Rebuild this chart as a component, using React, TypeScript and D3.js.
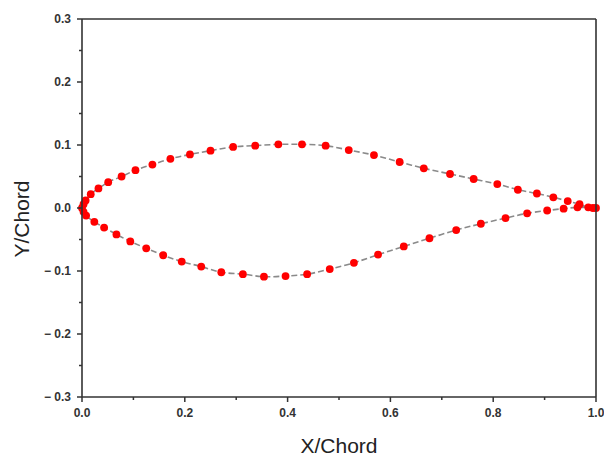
import React from "react";
import * as d3 from "d3";

const upperX = [1.0, 0.985, 0.968, 0.945, 0.917, 0.885, 0.848, 0.808, 0.762, 0.716, 0.665, 0.618, 0.568, 0.519, 0.474, 0.428, 0.382, 0.337, 0.294, 0.25, 0.21, 0.172, 0.137, 0.104, 0.077, 0.051, 0.032, 0.017, 0.007, 0.003, 0.0];
const upperY = [0.0, 0.001, 0.006, 0.011, 0.017, 0.023, 0.029, 0.038, 0.046, 0.054, 0.063, 0.073, 0.084, 0.092, 0.099, 0.101, 0.101, 0.099, 0.097, 0.091, 0.085, 0.078, 0.069, 0.06, 0.05, 0.041, 0.031, 0.022, 0.012, 0.006, 0.0];
const lowerX = [0.003, 0.008, 0.024, 0.043, 0.067, 0.094, 0.125, 0.158, 0.194, 0.232, 0.271, 0.313, 0.354, 0.396, 0.438, 0.482, 0.529, 0.576, 0.626, 0.676, 0.728, 0.776, 0.824, 0.866, 0.905, 0.937, 0.964, 0.994];
const lowerY = [-0.006, -0.012, -0.022, -0.031, -0.042, -0.053, -0.064, -0.075, -0.085, -0.093, -0.102, -0.105, -0.109, -0.108, -0.105, -0.097, -0.087, -0.074, -0.061, -0.048, -0.035, -0.025, -0.016, -0.0085, -0.004, -0.001, 0.001, 0.0];

const xTicks = [0, 0.2, 0.4, 0.6, 0.8, 1.0];
const xTickLabels = ["0.0", "0.2", "0.4", "0.6", "0.8", "1.0"];
const xMinor = [0.1, 0.3, 0.5, 0.7, 0.9];
const yTicks = [-0.3, -0.2, -0.1, 0, 0.1, 0.2, 0.3];
const yTickLabels = ["\u2212 0.3", "\u2212 0.2", "\u2212 0.1", "0.0", "0.1", "0.2", "0.3"];
const yMinor = [-0.25, -0.15, -0.05, 0.05, 0.15, 0.25];

const W = 604, H = 459;
const L = 82, R = 596, T = 19, B = 397;

export default function App() {
  const x = d3.scaleLinear().domain([0, 1]).range([L, R]);
  const y = d3.scaleLinear().domain([-0.3, 0.3]).range([B, T]);
  const pts: [number, number][] = [
    ...upperX.map((v, i) => [v, upperY[i]] as [number, number]),
    ...lowerX.map((v, i) => [v, lowerY[i]] as [number, number]),
  ];
  const line = d3
    .line<[number, number]>()
    .x((d) => x(d[0]))
    .y((d) => y(d[1]))
    .curve(d3.curveCatmullRom);
  const axisColor = "#333";
  const font = "'Liberation Sans', Arial, sans-serif";
  return (
    <svg width={W} height={H} style={{ position: "absolute", left: 0, top: 0, background: "#fff" }}>
      <rect x={0} y={0} width={W} height={H} fill="#fff" />
      <path d={line(pts) || ""} fill="none" stroke="#8a8a8a" strokeWidth={1.6} strokeDasharray="6,3" />
      {pts.map((p, i) => (
        <circle key={i} cx={x(p[0])} cy={y(p[1])} r={3.9} fill="#ff0000" />
      ))}
      {/* frame */}
      <line x1={L} x2={R} y1={T} y2={T} stroke={axisColor} strokeWidth={1.6} />
      <line x1={R} x2={R} y1={T} y2={B} stroke={axisColor} strokeWidth={1.6} />
      <line x1={L} x2={R} y1={B} y2={B} stroke={axisColor} strokeWidth={1.6} />
      <line x1={L} x2={L} y1={T} y2={B} stroke={axisColor} strokeWidth={1.6} />
      {xTicks.map((t, i) => (
        <g key={"xt" + i}>
          <line x1={x(t)} x2={x(t)} y1={B} y2={B + 5} stroke={axisColor} strokeWidth={1.5} />
          <text x={x(t)} y={B + 20} textAnchor="middle" fontFamily={font} fontWeight="bold" fontSize={12} fill="#333">
            {xTickLabels[i]}
          </text>
        </g>
      ))}
      {xMinor.map((t, i) => (
        <line key={"xm" + i} x1={x(t)} x2={x(t)} y1={B} y2={B + 3} stroke={axisColor} strokeWidth={1.5} />
      ))}
      {yTicks.map((t, i) => (
        <g key={"yt" + i}>
          <line x1={L - 5} x2={L} y1={y(t)} y2={y(t)} stroke={axisColor} strokeWidth={1.5} />
          <text x={L - 11} y={y(t) + 4} textAnchor="end" fontFamily={font} fontWeight="bold" fontSize={12} fill="#333">
            {yTickLabels[i]}
          </text>
        </g>
      ))}
      {yMinor.map((t, i) => (
        <line key={"ym" + i} x1={L - 3} x2={L} y1={y(t)} y2={y(t)} stroke={axisColor} strokeWidth={1.5} />
      ))}
      <text x={(L + R) / 2} y={453} textAnchor="middle" fontFamily={font} fontSize={21} fill="#222">
        X/Chord
      </text>
      <text
        transform={`translate(29, ${219}) rotate(-90)`}
        textAnchor="middle"
        fontFamily={font}
        fontSize={21}
        fill="#222"
      >
        Y/Chord
      </text>
    </svg>
  );
}
